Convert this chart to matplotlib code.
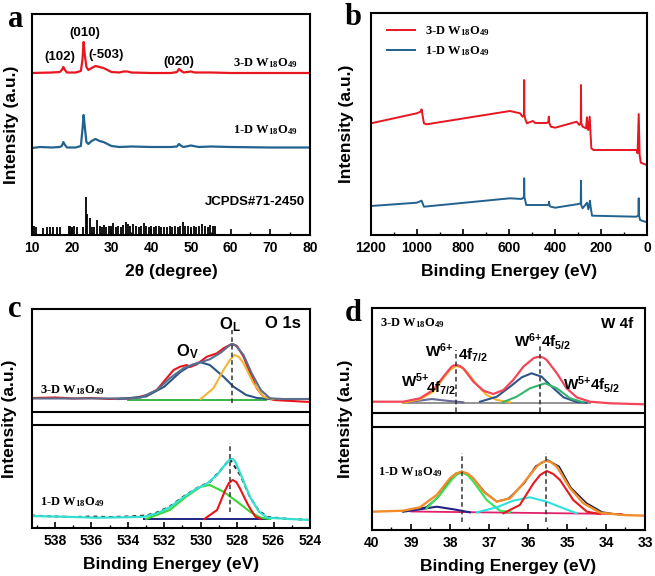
import matplotlib
matplotlib.use("Agg")
import matplotlib.pyplot as plt
from matplotlib.ticker import MultipleLocator

plt.rcParams['font.family'] = ['Liberation Sans', 'DejaVu Sans']
plt.rcParams['font.weight'] = 'bold'
plt.rcParams['axes.labelweight'] = 'bold'
plt.rcParams['mathtext.default'] = 'regular'

# ---- (a) XRD ----
xrd_3d_x = [10, 15, 17, 17.5, 17.9, 18.3, 18.8, 21, 22.3, 22.7, 23.0, 23.3, 23.7, 24.2, 25, 26, 27, 28, 29, 30,
            32, 33, 34, 35, 40, 45, 46.5, 47, 47.6, 48.2, 50, 51, 55, 60, 70, 80]
xrd_3d_y = [162, 162.5, 163, 165, 168, 165, 162.5, 162.5, 164, 175, 193, 180, 168, 165, 167, 169, 168, 167, 165, 163,
            162.5, 163.5, 163.5, 162.5, 162, 162, 163, 166, 164, 162.5, 163.5, 162.5, 162.5, 162, 162, 162]
xrd_1d_x = [10, 12, 15, 17, 17.5, 17.9, 18.3, 18.8, 21, 22.3, 22.7, 23.0, 23.3, 23.7, 24.2, 25, 26, 27, 28, 29, 30,
            32, 35, 40, 45, 46.5, 47, 47.6, 48.2, 50, 52, 55, 60, 70, 80]
xrd_1d_y = [87, 88, 87.5, 88, 89, 93, 90, 87.5, 87.5, 89, 105, 120, 108, 93, 91, 94, 96, 94, 93, 91, 89,
            88, 88.5, 88, 88, 88.5, 91, 89, 88, 89.5, 88, 88.5, 88, 87.5, 87.5]
jcpds_pos = [10.5, 10.9, 12.7, 13.9, 14.5, 15.3, 16.4, 17.1, 19.2, 19.6, 20.1, 20.6, 21.4, 22.8, 23.5, 23.9, 24.5,
             25.1, 25.6, 26.4, 27.0, 27.6, 28.2, 28.7, 29.3, 29.9, 30.5, 31.1, 31.7, 32.4, 33.0, 33.6, 34.2, 34.8,
             35.5, 36.2, 36.9, 37.5, 38.1, 38.8, 39.4, 40.0, 40.7, 41.3, 41.9, 42.6, 43.3, 44.0, 44.7, 45.3, 46.0,
             46.7, 47.3, 48.0, 48.6, 49.3, 50.0, 50.7, 51.4, 52.1, 52.8, 53.5, 54.2, 54.9, 55.6, 56.2]
jcpds_int = [9, 8, 7, 8, 8, 8, 8, 8, 9, 9, 8, 9, 8, 8, 38, 21, 17, 8, 8, 15, 9, 8, 10, 8, 9, 9, 12, 8, 9, 8, 10, 13,
             11, 9, 11, 9, 8, 9, 12, 9, 8, 9, 8, 9, 9, 8, 8, 8, 9, 8, 9, 8, 9, 13, 9, 9, 8, 9, 8, 9, 11, 9, 8, 10, 9, 9]

# ---- (b) XPS survey ----
sv_3d_x = [1200, 1001, 984, 980, 970, 958, 596, 552, 541, 535, 534, 533, 528, 522, 496, 486, 436, 429, 427, 425, 418,
           399, 306, 294, 288, 287, 286, 280, 265, 261, 258, 255, 249, 246, 242, 233, 45, 41, 36, 32, 27, 1]
sv_3d_y = [111.7, 121.7, 123.3, 125.7, 111.7, 110.7, 124, 121.7, 118.3, 120, 155, 120, 115, 111.7, 114, 112, 112, 113,
           118.3, 112, 108.3, 107.3, 113.3, 110, 112, 150, 112, 108.3, 106.7, 117.7, 106, 105, 118.3, 104, 86.7, 85,
           85, 81.7, 121, 80, 72.3, 70]
sv_1d_x = [1200, 1001, 980, 970, 596, 545, 535, 534, 533, 525, 428, 426, 423, 418, 399, 297, 288, 287, 286, 280, 261,
           255, 248, 245, 239, 45, 37, 36, 35, 30, 1]
sv_1d_y = [29, 32.3, 34.3, 28.3, 36.7, 36, 38, 56.7, 38, 30, 30, 33.3, 29, 28.3, 27.3, 31, 32, 54.3, 30, 26.7, 32.3,
           25.7, 34.3, 28, 19.3, 18.3, 20, 36.7, 20, 15, 12.7]

# ---- (c) O 1s ----
c3_meas_x = [539.2, 538, 537, 536, 535, 534, 533.5, 532.96, 532.41, 531.86, 531.49, 531.13, 530.76, 530.58, 530.21,
             530.03, 529.66, 529.11, 528.75, 528.29, 528.01, 527.65, 527.28, 526.92, 526.55, 526.0, 525.0, 524.0]
c3_meas_y = [130, 130.5, 129.5, 130, 129, 129.5, 130.5, 133, 138, 150, 158, 161.3, 163, 161, 163.7, 166.3, 171.3,
             174.7, 179.7, 184, 182, 171.3, 154.7, 139.7, 131.3, 128, 127, 126]
c3_fit_x = [539.2, 534, 533.3, 532.4, 531.7, 530.9, 530.2, 529.5, 528.9, 528.4, 528.25, 528.1, 527.65, 527.2, 526.7,
            526.2, 525.5, 524.0]
c3_fit_y = [129.5, 129.5, 130.3, 138, 149.7, 160.3, 164.7, 168.7, 175.3, 183, 184, 183, 173, 154.7, 138, 129.7, 129,
            129]
c3_ov_x = [534.5, 533, 532, 531.1, 530.5, 530.0, 529.5, 528.75, 528.2, 527.5, 526.9, 526.2]
c3_ov_y = [129, 131.5, 141.3, 156.3, 163, 165.7, 163, 151.3, 141.3, 133, 130, 129]
c3_ol_x = [530.0, 529.3, 528.75, 528.4, 528.15, 527.9, 527.65, 527.1, 526.55, 526.0]
c3_ol_y = [129, 139.7, 158, 168, 173, 171, 164.7, 144.7, 131.3, 128.7]
c3_bg_x = [534, 526.4]
c3_bg_y = [128, 128]

c1_meas_x = [539.3, 538, 537, 536, 535, 534, 533, 532.4, 531.7, 530.9, 530.2, 529.5, 528.9, 528.4, 527.8, 527.3,
             526.8, 526.3, 525.5, 524.5, 524.0]
c1_meas_y = [12.5, 11.5, 11, 11.5, 11, 11.5, 12.5, 15.5, 21.5, 32, 40, 46, 58, 69, 52, 31, 17, 11, 9.5, 8.5, 8]
c1_fit_x = [539.3, 537, 535.7, 534, 533.1, 532.4, 531.7, 530.9, 530.2, 529.7, 529.1, 528.75, 528.4, 528.25, 528.1,
            527.75, 527.3, 526.8, 526.35, 525.1, 524.0]
c1_fit_y = [12, 11, 10.3, 10.8, 11.3, 14.7, 20.7, 31.3, 39.7, 43.7, 53, 61.3, 68.7, 69.2, 66.3, 51.3, 31.3, 16.3,
            10.3, 9, 8]
c1_ov_x = [533, 531.7, 530.8, 530.0, 529.5, 528.75, 528.0, 527.3, 526.7, 526.2]
c1_ov_y = [9, 18, 31.3, 41.3, 43, 36.3, 26.3, 16.3, 10.3, 9]
c1_ol_x = [529.8, 529.1, 528.65, 528.45, 528.25, 528.05, 527.85, 527.4, 527.0, 526.7]
c1_ol_y = [9, 18, 38, 45, 48, 46, 39.7, 23, 11.3, 9]
c1_bg_x = [533.1, 526.3]
c1_bg_y = [9, 9]

# ---- (d) W 4f ----
d3_fit_x = [40, 39.2, 38.77, 38.43, 38.17, 37.96, 37.9, 37.83, 37.75, 37.66, 37.4, 37.14, 36.89, 36.63, 36.38,
            36.12, 35.86, 35.78, 35.69, 35.6, 35.52, 35.26, 35.01, 34.75, 34.41, 33.9, 33.0]
d3_fit_y = [128.3, 128.3, 131.7, 140, 153.3, 163.3, 164.6, 165, 164, 161.7, 148.3, 139.3, 136, 140, 150,
            163.3, 171.7, 172.8, 173.3, 172.2, 170, 156.7, 141.7, 132.7, 128.3, 126.7, 125.7]
d3_w6_72_x = [39.2, 38.77, 38.43, 38.17, 38.0, 37.84, 37.7, 37.57, 37.31, 37.06, 36.8, 36.46]
d3_w6_72_y = [127.3, 130.7, 138.3, 151.7, 160, 164, 162.5, 158.3, 145, 135, 130, 127.7]
d3_w5_72_x = [39.2, 38.85, 38.47, 38.09, 37.66]
d3_w5_72_y = [127.7, 129, 131, 129.3, 127.7]
d3_w6_52_x = [37.23, 36.8, 36.46, 36.16, 35.91, 35.65, 35.39, 35.09, 34.75, 34.5]
d3_w6_52_y = [128.3, 133.3, 143.3, 152.7, 156.7, 153.3, 143.3, 132.7, 128, 127.3]
d3_w5_52_x = [36.63, 36.29, 35.95, 35.56, 35.26, 34.92, 34.58]
d3_w5_52_y = [128, 133.3, 141.7, 146.7, 141.7, 131.7, 127.7]
d3_bg_x = [39.2, 34.41]
d3_bg_y = [127.3, 127.3]

d1_meas_x = [39.0, 38.6, 38.3, 38.0, 37.7, 37.4, 37.1, 36.8, 36.5, 36.1, 35.8, 35.5, 35.2, 34.9, 34.5, 34.1, 33.7,
             33.4]
d1_meas_y = [19.5, 23, 33, 50.5, 58.7, 51.5, 37.5, 28.5, 31.5, 46.5, 64, 70, 63.5, 42.5, 27, 18, 15.5, 15]
d1_fit_x = [40, 39.2, 38.77, 38.34, 38.0, 37.85, 37.7, 37.55, 37.4, 37.14, 36.8, 36.46, 36.12, 35.78, 35.65, 35.52,
            35.4, 35.26, 34.92, 34.58, 34.15, 33.56, 33.0]
d1_fit_y = [18.3, 19.3, 22.7, 35, 51.7, 56.5, 58.3, 56.5, 51.7, 38.3, 28.3, 31.7, 46.7, 63.3, 67.5, 69.3,
            67.5, 63.3, 41.7, 26.7, 17.3, 15, 14.3]
d1_w6_72_x = [38.6, 38.26, 37.96, 37.83, 37.7, 37.55, 37.4, 37.06, 36.72, 36.46]
d1_w6_72_y = [21.7, 35, 50, 55.5, 57.3, 55, 48.3, 30, 19.3, 18]
d1_w5_72_x = [39.2, 38.77, 38.34, 37.91, 37.49]
d1_w5_72_y = [18.3, 20.7, 23.3, 20.7, 17.7]
d1_w5_52_x = [37.31, 36.8, 36.38, 35.95, 35.52, 35.09, 34.75]
d1_w5_52_y = [17.7, 22.7, 29.3, 32.7, 28.3, 21.7, 16.7]
d1_w6_52_x = [36.63, 36.21, 35.86, 35.69, 35.52, 35.35, 35.18, 34.84, 34.49, 34.15]
d1_w6_52_y = [16.7, 25, 46.7, 55, 59, 56, 50, 30, 18.3, 16]
d1_bg_x = [39.0, 33.6]
d1_bg_y = [18.5, 16]

sample_3d = '3-D W$_{18}$O$_{49}$'
sample_1d = '1-D W$_{18}$O$_{49}$'
serif = dict(fontfamily='Liberation Serif', fontweight='bold', fontsize=9)

W, H = 655, 576
fig = plt.figure(figsize=(W / 100, H / 100), dpi=100)


def px_axes(x0, y0, x1, y1):
    return fig.add_axes([x0 / W, 1 - y1 / H, (x1 - x0) / W, (y1 - y0) / H])


def style(ax, xlim, ylim, major, minor, xlabel, ylab_x):
    ax.set_xlim(*xlim)
    ax.set_ylim(*ylim)
    ax.set_yticks([])
    ax.xaxis.set_major_locator(MultipleLocator(major))
    ax.xaxis.set_minor_locator(MultipleLocator(minor))
    ax.tick_params(axis='x', which='both', direction='in', labelsize=10, pad=4)
    ax.tick_params(which='major', length=4, width=1.2)
    ax.tick_params(which='minor', length=2, width=1)
    for s in ax.spines.values():
        s.set_linewidth(1.5)
    ax.set_xlabel(xlabel, fontsize=12.5, labelpad=7)
    ax.set_ylabel('Intensity (a.u.)', fontsize=12.5)
    ax.yaxis.set_label_coords(ylab_x, 0.5)


# panel a
axa = px_axes(32, 14, 310, 235)
axa.plot(xrd_3d_x, xrd_3d_y, color='#e8161e', lw=1.6)
axa.plot(xrd_1d_x, xrd_1d_y, color='#22628f', lw=1.6)
axa.vlines(jcpds_pos, 0, jcpds_int, color='black', lw=1.3)
style(axa, (10, 80), (0, 221), 10, 5, '2θ (degree)', -0.045)
for txt, x, y in [('(102)', 17.05, 178), ('(010)', 23.35, 202), ('(-503)', 28.6, 180), ('(020)', 47.0, 173)]:
    axa.text(x, y, txt, ha='center', va='center', fontsize=9.5)
axa.text(60.6, 165, sample_3d, ha='left', va='bottom', **serif)
axa.text(60.6, 98, sample_1d, ha='left', va='bottom', **serif)
axa.text(53.6, 33, 'JCPDS#71-2450', ha='left', va='center', fontsize=9.5)

# panel b
axb = px_axes(371, 13, 647, 235)
axb.plot(sv_3d_x, sv_3d_y, color='#e8161e', lw=1.4, label=sample_3d)
axb.plot(sv_1d_x, sv_1d_y, color='#22628f', lw=1.4, label=sample_1d)
style(axb, (1200, 0), (0, 222), 200, 100, 'Binding Energey (eV)', -0.06)
axb.legend(loc='upper left', bbox_to_anchor=(0.04, 0.97), frameon=False, borderaxespad=0, handlelength=2.2,
           labelspacing=0.45, prop=dict(family='Liberation Serif', weight='bold', size=9))

# panel c
axc = px_axes(32, 309, 310, 528)
axc.plot(c3_bg_x, c3_bg_y, color='#3cb44b', lw=1.4)
axc.plot(c3_meas_x, c3_meas_y, color='#e8161e', lw=1.5)
axc.plot(c3_ov_x, c3_ov_y, color='#2a5585', lw=1.5)
axc.plot(c3_ol_x, c3_ol_y, color='#f2b632', lw=1.5)
axc.plot(c3_fit_x, c3_fit_y, color='#5b6e8e', lw=1.5)
axc.plot(c1_bg_x, c1_bg_y, color='#1c2880', lw=1.4)
axc.plot(c1_meas_x, c1_meas_y, color='#222222', lw=1.4, ls=(0, (2, 2)))
axc.plot(c1_ov_x, c1_ov_y, color='#35d935', lw=1.5)
axc.plot(c1_ol_x, c1_ol_y, color='#e8141c', lw=1.5)
axc.plot(c1_fit_x, c1_fit_y, color='#33e0d0', lw=1.6)
axc.axhline(116, color='black', lw=1.5)
axc.axhline(103, color='black', lw=1.5)
axc.vlines([528.27], 125, 198, color='#333333', lw=1.1, linestyles=(0, (3, 2)))
axc.vlines([528.38], 16, 85, color='#333333', lw=1.1, linestyles=(0, (3, 2)))
style(axc, (539.26, 524), (0, 219), 2, 1, 'Binding Energey (eV)', -0.054)
axc.text(530.74, 176, 'O$_V$', ha='center', va='center', fontsize=12)
axc.text(528.38, 203, 'O$_L$', ha='center', va='center', fontsize=12)
axc.text(525.47, 204, 'O 1s', ha='center', va='center', fontsize=12)
axc.text(538.82, 138, sample_3d, ha='left', va='center', **serif)
axc.text(538.82, 26, sample_1d, ha='left', va='center', **serif)

# panel d
axd = px_axes(372, 308, 645, 530)
axd.plot(d3_bg_x, d3_bg_y, color='#8a8a8a', lw=1.3)
axd.plot(d3_w5_72_x, d3_w5_72_y, color='#6a6a96', lw=1.5)
axd.plot(d3_w6_72_x, d3_w6_72_y, color='#f5b52a', lw=1.5)
axd.plot(d3_w6_52_x, d3_w6_52_y, color='#2f5589', lw=1.5)
axd.plot(d3_w5_52_x, d3_w5_52_y, color='#35b56e', lw=1.5)
axd.plot(d3_fit_x, d3_fit_y, color='#f2465a', lw=1.6)
axd.plot(d1_bg_x, d1_bg_y, color='#e0206a', lw=1.3)
axd.plot(d1_meas_x, d1_meas_y, color='#1e2245', lw=1.1)
axd.plot(d1_w5_72_x, d1_w5_72_y, color='#222288', lw=1.5)
axd.plot(d1_w6_72_x, d1_w6_72_y, color='#33e655', lw=1.5)
axd.plot(d1_w5_52_x, d1_w5_52_y, color='#2fe0e0', lw=1.5)
axd.plot(d1_w6_52_x, d1_w6_52_y, color='#e41a1c', lw=1.5)
axd.plot(d1_fit_x, d1_fit_y, color='#f28c28', lw=1.7)
axd.axhline(117, color='black', lw=1.5)
axd.axhline(103, color='black', lw=1.5)
axd.vlines([37.84, 35.69], 118, [180, 185], color='#333333', lw=1.1, linestyles=(0, (3, 2)))
axd.vlines([37.68, 35.54], 8, 77, color='#333333', lw=1.1, linestyles=(0, (3, 2)))
style(axd, (40, 33), (0, 222), 1, 0.5, 'Binding Energey (eV)', -0.07)
axd.text(39.79, 207, sample_3d, ha='left', va='center', **serif)
axd.text(39.85, 58, sample_1d, ha='left', va='center', **serif)
axd.text(33.72, 206, 'W 4f', ha='center', va='center', fontsize=11)
axd.text(38.27, 179, 'W$^{6{+}}$', ha='center', va='center', fontsize=11)
axd.text(37.80, 175, '4f$_{7/2}$', ha='left', va='center', fontsize=11)
axd.text(38.9, 149, 'W$^{5{+}}$', ha='center', va='center', fontsize=11)
axd.text(38.23, 142, '4f$_{7/2}$', ha='center', va='center', fontsize=11)
axd.text(35.62, 188, 'W$^{6{+}}$4f$_{5/2}$', ha='center', va='center', fontsize=11)
axd.text(34.36, 145, 'W$^{5{+}}$4f$_{5/2}$', ha='center', va='center', fontsize=11)

# panel letters
for letter, x, y in [('a', 8, 27), ('b', 345, 25), ('c', 8, 317), ('d', 345, 321)]:
    fig.text(x / W, 1 - y / H, letter, fontfamily='Liberation Serif', fontweight='bold', fontsize=22,
             ha='left', va='baseline')

fig.savefig('out.png', dpi=100)
